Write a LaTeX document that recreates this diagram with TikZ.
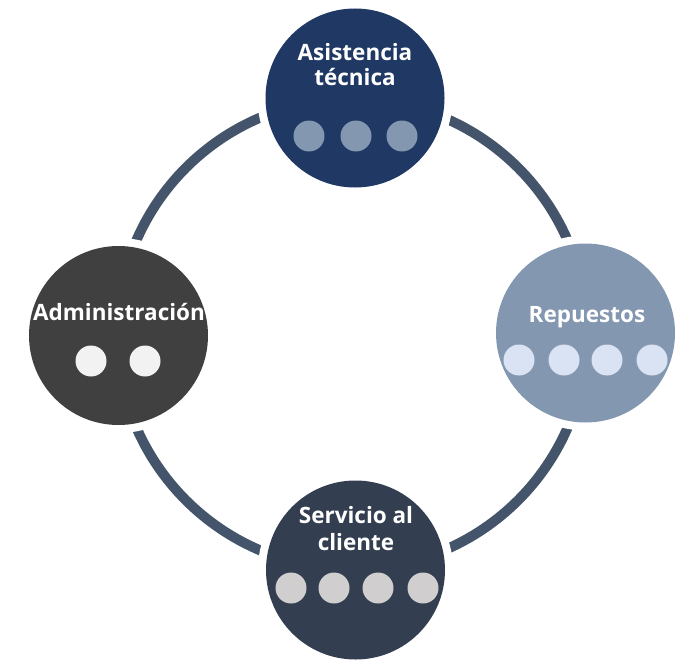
\documentclass[tikz,border=0pt]{standalone}
\usepackage{fontspec}
\setmainfont{Open Sans}
\definecolor{ringc}{HTML}{44546A}
\definecolor{topc}{HTML}{1F3864}
\definecolor{topdot}{HTML}{8497B0}
\definecolor{leftc}{HTML}{404040}
\definecolor{leftdot}{HTML}{F2F2F2}
\definecolor{rightc}{HTML}{8497B0}
\definecolor{rightdot}{HTML}{DAE3F3}
\definecolor{botc}{HTML}{333F50}
\definecolor{botdot}{HTML}{D0CECE}
\tikzset{
  bigc/.style={circle, minimum size=179pt, inner sep=0pt, preaction={draw=white, line width=16pt}},
  dotc/.style={circle, minimum size=31pt, inner sep=0pt},
  lbl/.style={text=white, font=\fontsize{22.5}{26}\selectfont\bfseries, anchor=base, align=center, inner sep=0pt},
}
\begin{document}
\begin{tikzpicture}[x=1pt,y=-1pt]
\useasboundingbox (0,0) rectangle (684,666);
\coordinate (ctr) at (352,334);
\draw[ringc, line width=10pt] (ctr) circle[radius=235pt];
\node[bigc, fill=topc] (top) at (355,98) {};
\node[bigc, fill=leftc] (left) at (118.5,335.5) {};
\node[bigc, fill=rightc] (right) at (585.5,333) {};
\node[bigc, fill=botc] (bot) at (355.5,570) {};
% labels
\node[lbl] (tl1) at (355,61) {Asistencia};
\node[lbl] (tl2) at (355,86) {técnica};
\node[lbl] (ll) at (119,320) {Administración};
\node[lbl] (rl) at (587,322) {Repuestos};
\node[lbl] (bl1) at (356,523) {Servicio al};
\node[lbl] (bl2) at (356,550) {cliente};
% dots
\foreach \x [count=\i] in {309,356,402} \node[dotc, fill=topdot] (td\i) at (\x,136) {};
\foreach \x [count=\i] in {91,145} \node[dotc, fill=leftdot] (ld\i) at (\x,361) {};
\foreach \x [count=\i] in {519,564,607,652} \node[dotc, fill=rightdot] (rd\i) at (\x,360) {};
\foreach \x [count=\i] in {291,334,378,423} \node[dotc, fill=botdot] (bd\i) at (\x,588) {};
\end{tikzpicture}
\end{document}
